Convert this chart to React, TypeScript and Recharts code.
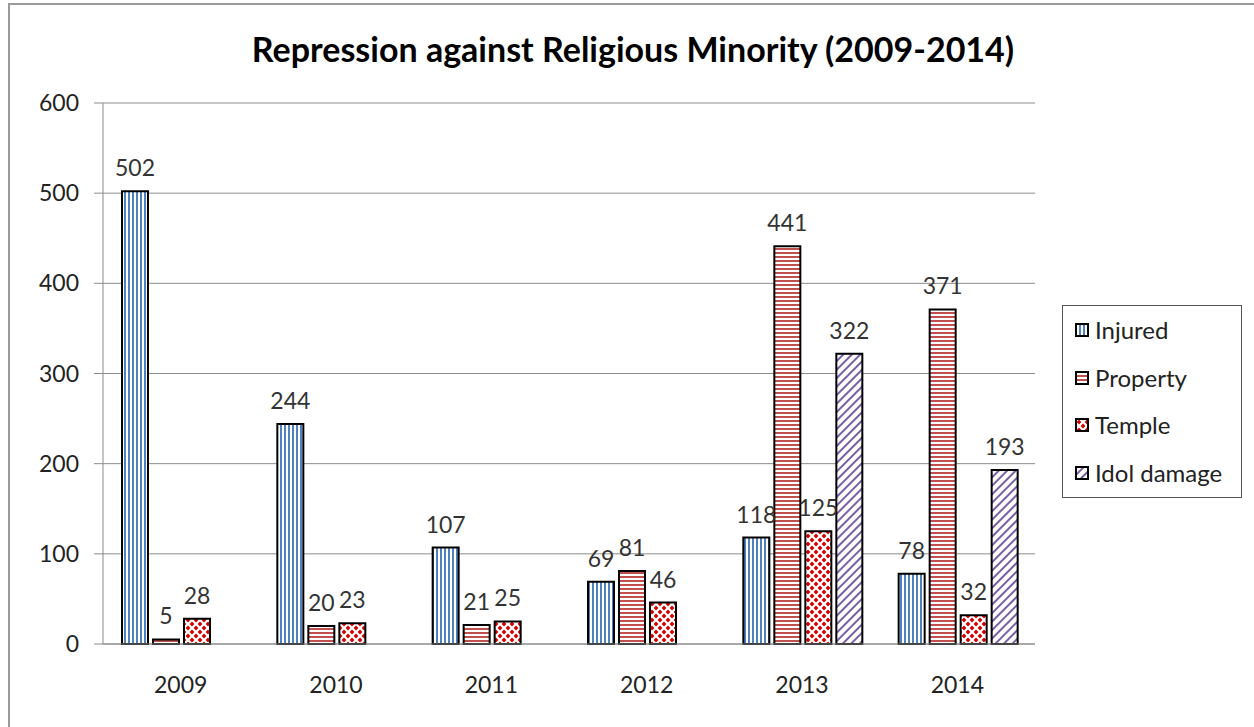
import React from 'react';
import {
  BarChart,
  Bar,
  XAxis,
  YAxis,
  CartesianGrid,
  Legend,
  LabelList,
} from 'recharts';

const years = ['2009', '2010', '2011', '2012', '2013', '2014'];
const injured = [502, 244, 107, 69, 118, 78];
const property = [5, 20, 21, 81, 441, 371];
const temple = [28, 23, 25, 46, 125, 32];
const idolDamage = [null, null, null, null, 322, 193];
const yTicks = [0, 100, 200, 300, 400, 500, 600];

const series = [
  { key: 'injured', name: 'Injured', fill: 'url(#patInjured)' },
  { key: 'property', name: 'Property', fill: 'url(#patProperty)' },
  { key: 'temple', name: 'Temple', fill: 'url(#patTemple)' },
  { key: 'idol', name: 'Idol damage', fill: 'url(#patIdol)' },
];

const data = years.map((year, i) => ({
  year,
  injured: injured[i],
  property: property[i],
  temple: temple[i],
  idol: idolDamage[i],
}));

const FONT = 'Lato, "Open Sans", sans-serif';

// hatch fills, roughly like the Office pattern fills
function Patterns() {
  return (
    <defs>
      <pattern id="patInjured" width="4" height="4" patternUnits="userSpaceOnUse">
        <rect width="4" height="4" fill="#ffffff" />
        <rect x="0" width="2" height="4" fill="#4f81bd" />
      </pattern>
      <pattern id="patProperty" width="4" height="4" patternUnits="userSpaceOnUse">
        <rect width="4" height="4" fill="#ffffff" />
        <rect y="0" width="4" height="2" fill="#c0504d" />
      </pattern>
      <pattern id="patTemple" width="8" height="8" patternUnits="userSpaceOnUse">
        <rect width="8" height="8" fill="#ffffff" />
        <path
          d="M4 1.6 L6.4 4 L4 6.4 L1.6 4 Z M0 -2.4 L2.4 0 L0 2.4 L-2.4 0 Z M8 -2.4 L10.4 0 L8 2.4 L5.6 0 Z M0 5.6 L2.4 8 L0 10.4 L-2.4 8 Z M8 5.6 L10.4 8 L8 10.4 L5.6 8 Z"
          fill="#d40000"
        />
      </pattern>
      <pattern
        id="patIdol"
        width="6"
        height="6"
        patternUnits="userSpaceOnUse"
        patternTransform="rotate(45)"
      >
        <rect width="6" height="6" fill="#ffffff" />
        <rect width="2" height="6" fill="#7a5fa6" />
      </pattern>
    </defs>
  );
}

function LegendBox() {
  return (
    <div
      style={{
        border: '1.5px solid #555',
        background: '#fff',
        width: 180,
        height: 193,
        boxSizing: 'border-box',
        padding: '0 0 0 12px',
        fontFamily: FONT,
        fontSize: 24,
        color: '#222',
        display: 'flex',
        flexDirection: 'column',
        justifyContent: 'center',
      }}
    >
      {series.map((s) => (
        <div key={s.key} style={{ display: 'flex', alignItems: 'center', height: 48.5 }}>
          <svg width="14" height="14" style={{ marginRight: 6, flex: 'none' }}>
            <rect x="1" y="1" width="12" height="12" fill={s.fill} stroke="#000" strokeWidth="2" />
          </svg>
          <span style={{ whiteSpace: 'nowrap', lineHeight: '28px' }}>{s.name}</span>
        </div>
      ))}
    </div>
  );
}

export default function App() {
  return (
    <div
      style={{
        position: 'absolute',
        left: 0,
        top: 0,
        width: 1254,
        height: 727,
        background: '#fff',
        overflow: 'hidden',
      }}
    >
      <div
        style={{
          position: 'absolute',
          left: 8,
          top: 3,
          width: 1300,
          height: 800,
          borderLeft: '2px solid #9a9a9a',
          borderTop: '2px solid #9a9a9a',
        }}
      />
      <div
        style={{
          position: 'absolute',
          left: 0,
          width: 1266,
          top: 27,
          textAlign: 'center',
          fontFamily: FONT,
          fontWeight: 700,
          fontSize: 34,
          color: '#000',
          lineHeight: '44px',
          whiteSpace: 'nowrap',
        }}
      >
        Repression against Religious Minority (2009-2014)
      </div>
      <BarChart
        width={1254}
        height={727}
        data={data}
        margin={{ top: 103, right: 219, left: 0, bottom: 43 }}
        barCategoryGap={19}
        barGap={5}
        style={{ position: 'absolute', left: 0, top: 0, fontFamily: FONT }}
      >
        <Patterns />
        <CartesianGrid vertical={false} stroke="#8c8c8c" strokeWidth={1} />
        <XAxis
          dataKey="year"
          axisLine={{ stroke: '#8c8c8c' }}
          tickLine={false}
          tickSize={0}
          tickMargin={33}
          height={40}
          tick={{ fill: '#222', fontSize: 23 }}
        />
        <YAxis
          domain={[0, 600]}
          ticks={yTicks}
          width={103}
          axisLine={{ stroke: '#8c8c8c' }}
          tickLine={{ stroke: '#8c8c8c' }}
          tickSize={9}
          tickMargin={15}
          tick={{ fill: '#222', fontSize: 23 }}
        />
        <Legend
          layout="horizontal"
          align="center"
          verticalAlign="middle"
          content={() => <LegendBox />}
          wrapperStyle={{ position: 'absolute', left: 1062, top: 305, width: 180, height: 193 }}
        />
        {series.map((s) => (
          <Bar
            key={s.key}
            dataKey={s.key}
            name={s.name}
            fill={s.fill}
            stroke="#000"
            strokeWidth={2}
            isAnimationActive={false}
          >
            <LabelList
              dataKey={s.key}
              position="top"
              offset={15}
              fill="#333"
              fontSize={23}
              formatter={(v: any) => (v == null ? '' : v)}
            />
          </Bar>
        ))}
      </BarChart>
    </div>
  );
}
